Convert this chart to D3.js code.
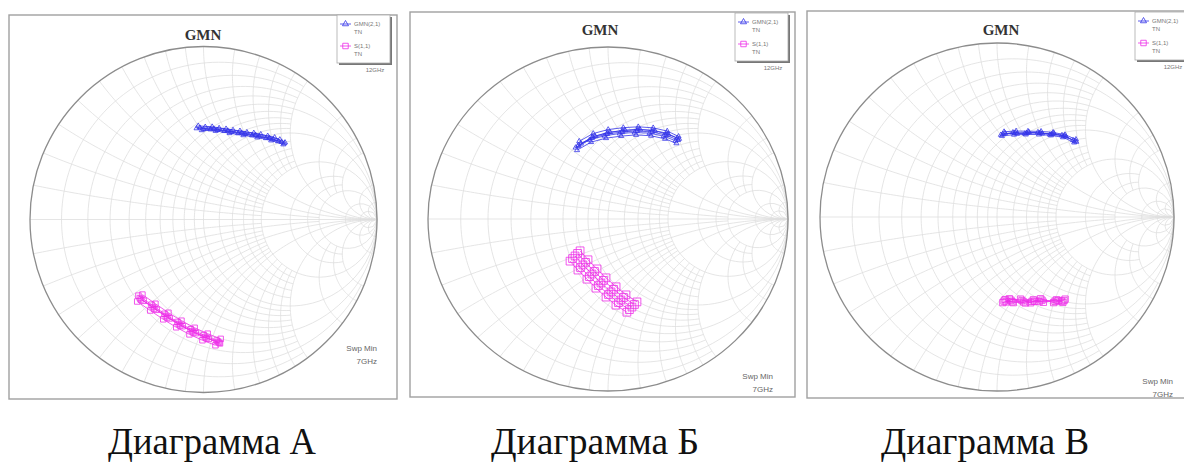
<!DOCTYPE html>
<html lang="ru">
  <head>
    <meta charset="UTF-8" />
    <title>GMN Smith charts</title>
    <style>
      body { margin: 0; background: #fff; }
      svg { display: block; }
      .grid { fill: none; stroke: #dedede; stroke-width: 0.8px; }
      .rim { fill: none; stroke: #8c8c8c; stroke-width: 1.3px; }
      .frame { fill: none; stroke: #a0a0a0; stroke-width: 1.4px; }
      .title { font-family: "Liberation Serif", serif; font-weight: bold; font-size: 15px; fill: #333; }
      .caption { font-family: "Liberation Serif", serif; font-size: 38px; fill: #111; }
      .small { font-family: "Liberation Sans", Arial, sans-serif; font-size: 8px; fill: #666; }
      .tiny { font-family: "Liberation Sans", Arial, sans-serif; font-size: 6px; fill: #777; }
      .gmn { fill: none; stroke: #3535e8; stroke-width: 0.8px; }
      .s11 { fill: none; stroke: #ee2ee8; stroke-width: 0.8px; }
    </style>
  </head>
  <body>
    <script src="https://cdn.jsdelivr.net/npm/d3@7"></script>
    <script>

      // grid values of the Smith chart and how far each line runs
      var resistanceValues = [0.1, 0.2, 0.3, 0.4, 0.5, 0.6, 0.7, 0.8, 0.9, 1, 1.2, 1.4, 1.6, 1.8, 2, 3, 4, 5, 10, 20];
      var resistanceLimits = [2, 5, 2, 2, 1e6, 2, 2, 2, 2, 1e6, 2, 2, 2, 2, 1e6, 5, 5, 1e6, 1e6, 1e6];
      var reactanceValues  = [0.1, 0.2, 0.3, 0.4, 0.5, 0.6, 0.7, 0.8, 0.9, 1, 1.2, 1.4, 1.6, 1.8, 2, 3, 4, 5, 10, 20];
      var reactanceLimits  = [2, 5, 2, 2, 1e6, 2, 2, 2, 2, 1e6, 2, 2, 2, 2, 1e6, 5, 5, 1e6, 1e6, 1e6];

      var captions = ["Диаграмма А", "Диаграмма Б", "Диаграмма В"];
      var legendNames = ["GMN(2,1)", "S(1,1)"];

      // reflection coefficient (re, im), one trace per yield sample, 7..12 GHz
      var gmnA = [
        [[-0.02,0.530],[0.06,0.524],[0.14,0.513],[0.22,0.501],[0.30,0.489],[0.38,0.472],[0.45,0.449]],
        [[-0.01,0.516],[0.07,0.512],[0.15,0.499],[0.23,0.487],[0.31,0.474],[0.39,0.457],[0.46,0.434]],
        [[-0.03,0.541],[0.05,0.536],[0.13,0.524],[0.21,0.512],[0.29,0.500],[0.37,0.483],[0.44,0.462]],
        [[0.00,0.522],[0.08,0.517],[0.16,0.506],[0.24,0.494],[0.32,0.480],[0.40,0.463],[0.465,0.440]],
        [[-0.04,0.527],[0.04,0.521],[0.12,0.511],[0.20,0.498],[0.28,0.486],[0.36,0.470],[0.43,0.452]],
        [[0.01,0.535],[0.09,0.528],[0.17,0.517],[0.25,0.504],[0.33,0.492],[0.41,0.474],[0.47,0.445]]
      ];
      var s11A = [
        [[-0.367,-0.454],[-0.292,-0.506],[-0.217,-0.558],[-0.142,-0.604],[-0.066,-0.645],[0.009,-0.679],[0.084,-0.708]],
        [[-0.352,-0.434],[-0.277,-0.487],[-0.202,-0.539],[-0.127,-0.585],[-0.051,-0.626],[0.024,-0.660],[0.099,-0.690]],
        [[-0.382,-0.474],[-0.307,-0.526],[-0.232,-0.577],[-0.157,-0.623],[-0.081,-0.664],[-0.006,-0.698],[0.069,-0.727]],
        [[-0.345,-0.470],[-0.270,-0.522],[-0.195,-0.572],[-0.120,-0.617],[-0.044,-0.657],[0.031,-0.690],[0.095,-0.716]],
        [[-0.375,-0.440],[-0.300,-0.492],[-0.225,-0.545],[-0.150,-0.592],[-0.074,-0.634],[0.001,-0.668],[0.076,-0.700]],
        [[-0.360,-0.462],[-0.284,-0.515],[-0.209,-0.566],[-0.134,-0.612],[-0.058,-0.652],[0.017,-0.686],[0.090,-0.712]]
      ];
      var gmnB = [
        [[-0.167,0.424],[-0.089,0.471],[-0.006,0.494],[0.078,0.506],[0.161,0.512],[0.244,0.506],[0.322,0.488],[0.389,0.459]],
        [[-0.160,0.452],[-0.082,0.497],[0.001,0.520],[0.085,0.531],[0.168,0.536],[0.251,0.530],[0.329,0.511],[0.392,0.480]],
        [[-0.172,0.400],[-0.094,0.447],[-0.011,0.470],[0.073,0.482],[0.156,0.489],[0.239,0.484],[0.317,0.466],[0.380,0.440]],
        [[-0.150,0.438],[-0.072,0.482],[0.011,0.505],[0.095,0.516],[0.178,0.520],[0.261,0.512],[0.335,0.492],[0.395,0.466]],
        [[-0.180,0.415],[-0.102,0.460],[-0.019,0.484],[0.065,0.497],[0.148,0.503],[0.231,0.499],[0.309,0.482],[0.375,0.455]],
        [[-0.163,0.430],[-0.085,0.478],[-0.002,0.502],[0.082,0.514],[0.165,0.521],[0.248,0.516],[0.326,0.499],[0.385,0.470]]
      ];
      var s11B = [
        [[-0.183,-0.215],[-0.139,-0.267],[-0.089,-0.320],[-0.039,-0.372],[0.017,-0.424],[0.072,-0.471],[0.133,-0.512]],
        [[-0.155,-0.185],[-0.111,-0.237],[-0.061,-0.290],[-0.011,-0.342],[0.045,-0.394],[0.100,-0.441],[0.161,-0.482]],
        [[-0.211,-0.245],[-0.167,-0.297],[-0.117,-0.350],[-0.067,-0.402],[-0.011,-0.454],[0.044,-0.501],[0.105,-0.542]],
        [[-0.169,-0.200],[-0.125,-0.252],[-0.075,-0.305],[-0.025,-0.357],[0.031,-0.409],[0.086,-0.456],[0.147,-0.497]],
        [[-0.197,-0.230],[-0.153,-0.282],[-0.103,-0.335],[-0.053,-0.387],[0.003,-0.439],[0.058,-0.486],[0.119,-0.527]]
      ];
      var gmnC = [
        [[0.034,0.477],[0.102,0.483],[0.169,0.483],[0.243,0.483],[0.311,0.477],[0.379,0.466],[0.441,0.437]],
        [[0.040,0.490],[0.108,0.494],[0.175,0.493],[0.249,0.492],[0.317,0.486],[0.384,0.473],[0.446,0.446]],
        [[0.028,0.466],[0.096,0.473],[0.163,0.474],[0.237,0.474],[0.305,0.469],[0.373,0.458],[0.436,0.428]],
        [[0.045,0.482],[0.113,0.478],[0.180,0.488],[0.254,0.479],[0.322,0.481],[0.389,0.462],[0.448,0.432]],
        [[0.022,0.472],[0.090,0.486],[0.157,0.479],[0.231,0.487],[0.299,0.473],[0.367,0.470],[0.430,0.441]]
      ];
      var s11C = [
        [[0.040,-0.483],[0.085,-0.487],[0.141,-0.480],[0.198,-0.485],[0.254,-0.478],[0.328,-0.484],[0.379,-0.480]],
        [[0.046,-0.475],[0.092,-0.492],[0.150,-0.488],[0.206,-0.476],[0.262,-0.490],[0.336,-0.476],[0.372,-0.490]],
        [[0.033,-0.492],[0.078,-0.478],[0.133,-0.472],[0.190,-0.493],[0.246,-0.470],[0.320,-0.492],[0.385,-0.472]],
        [[0.052,-0.488],[0.070,-0.470],[0.160,-0.494],[0.212,-0.484],[0.238,-0.486],[0.345,-0.480],[0.365,-0.484]]
      ];

      var gmnSeries = [gmnA, gmnB, gmnC];
      var s11Series = [s11A, s11B, s11C];

      // where each panel sits on the page
      var panels = [
        { fx: 9,   fy: 15, fw: 388, fh: 384, cx: 203.5, cy: 219.5, rx: 173.5, ry: 173, tx: 203, ty: 40, lx: 337, ly: 15, sx: 377,  sy: 351, capX: 212, sq: 30 },
        { fx: 410, fy: 12, fw: 385, fh: 385, cx: 608,   cy: 219,   rx: 180,   ry: 172, tx: 600, ty: 35, lx: 735, ly: 13, sx: 773,  sy: 379, capX: 595, sq: 60 },
        { fx: 807, fy: 11, fw: 390, fh: 387, cx: 997,   cy: 217,   rx: 177,   ry: 174, tx: 1001, ty: 35, lx: 1135, ly: 12, sx: 1173, sy: 384, capX: 985, sq: 40 }
      ];

      var w = 1184, h = 470;
      var svg = d3.select("body").append("svg").attr("width", w).attr("height", h);

      // z = r + jx  ->  gamma = (z - 1) / (z + 1)
      function gamma(r, x) {
        var d = (r + 1) * (r + 1) + x * x;
        return [(r * r + x * x - 1) / d, (2 * x) / d];
      }

      function resistancePath(r, lim) {
        var a = Math.atan(lim), pts = [];
        for (var i = 0; i <= 120; i++) {
          var t = -a + 2 * a * i / 120;
          pts.push(gamma(r, Math.tan(t)));
        }
        return pts;
      }

      function reactancePath(x, lim) {
        var a = Math.atan(lim), pts = [];
        for (var i = 0; i <= 80; i++) {
          var t = a * i / 80;
          pts.push(gamma(Math.tan(t), x));
        }
        return pts;
      }

      panels.forEach(function(p, k) {
        var xScale = d3.scaleLinear().domain([-1, 1]).range([p.cx - p.rx, p.cx + p.rx]);
        var yScale = d3.scaleLinear().domain([-1, 1]).range([p.cy + p.ry, p.cy - p.ry]);
        var line = d3.line()
          .x(function(d) { return xScale(d[0]); })
          .y(function(d) { return yScale(d[1]); });

        var g = svg.append("g");

        g.append("rect").attr("class", "frame")
          .attr("x", p.fx).attr("y", p.fy).attr("width", p.fw).attr("height", p.fh);

        var grid = g.append("g");
        resistanceValues.forEach(function(r, i) {
          grid.append("path").attr("class", "grid").attr("d", line(resistancePath(r, resistanceLimits[i])));
        });
        reactanceValues.forEach(function(x, i) {
          grid.append("path").attr("class", "grid").attr("d", line(reactancePath(x, reactanceLimits[i])));
          grid.append("path").attr("class", "grid").attr("d", line(reactancePath(-x, reactanceLimits[i])));
        });
        grid.append("path").attr("class", "grid").attr("d", line([[-1, 0], [1, 0]]));

        g.append("ellipse").attr("class", "rim")
          .attr("cx", xScale(0)).attr("cy", yScale(0))
          .attr("rx", xScale(1) - xScale(0)).attr("ry", yScale(-1) - yScale(0));

        g.append("text").attr("class", "title")
          .attr("x", p.tx).attr("y", p.ty).attr("text-anchor", "middle").text("GMN");

        // traces
        var tri = d3.symbol().type(d3.symbolTriangle).size(11);
        var sqr = d3.symbol().type(d3.symbolSquare).size(p.sq);

        s11Series[k].forEach(function(tr) {
          g.append("path").attr("class", "s11").attr("d", line(tr));
          g.selectAll(null).data(tr).enter().append("path")
            .attr("class", "s11")
            .attr("d", sqr)
            .attr("transform", function(d) { return "translate(" + xScale(d[0]) + "," + yScale(d[1]) + ")"; });
        });
        gmnSeries[k].forEach(function(tr) {
          g.append("path").attr("class", "gmn").attr("d", line(tr));
          g.selectAll(null).data(tr).enter().append("path")
            .attr("class", "gmn")
            .attr("d", tri)
            .attr("transform", function(d) { return "translate(" + xScale(d[0]) + "," + yScale(d[1]) + ")"; });
        });

        // legend
        var lg = g.append("g").attr("transform", "translate(" + p.lx + "," + p.ly + ")");
        lg.append("rect").attr("x", 2).attr("y", 2).attr("width", 53).attr("height", 48).attr("fill", "#777");
        lg.append("rect").attr("width", 53).attr("height", 48).attr("fill", "#fff").attr("stroke", "#aaa").attr("stroke-width", 0.8);
        lg.append("line").attr("class", "gmn").attr("x1", 3).attr("x2", 14).attr("y1", 9).attr("y2", 9);
        lg.append("path").attr("class", "gmn").attr("d", d3.symbol().type(d3.symbolTriangle).size(16))
          .attr("transform", "translate(8.5,9)");
        lg.append("text").attr("class", "tiny").attr("x", 17).attr("y", 11).text(legendNames[0]);
        lg.append("text").attr("class", "tiny").attr("x", 17).attr("y", 19).text("TN");
        lg.append("line").attr("class", "s11").attr("x1", 3).attr("x2", 14).attr("y1", 31).attr("y2", 31);
        lg.append("path").attr("class", "s11").attr("d", d3.symbol().type(d3.symbolSquare).size(30))
          .attr("transform", "translate(8.5,31)");
        lg.append("text").attr("class", "tiny").attr("x", 17).attr("y", 33).text(legendNames[1]);
        lg.append("text").attr("class", "tiny").attr("x", 17).attr("y", 41).text("TN");
        lg.append("text").attr("class", "tiny").attr("x", 38).attr("y", 57).attr("text-anchor", "middle").text("12GHz");

        g.append("text").attr("class", "small").attr("x", p.sx).attr("y", p.sy)
          .attr("text-anchor", "end").text("Swp Min");
        g.append("text").attr("class", "small").attr("x", p.sx).attr("y", p.sy + 13)
          .attr("text-anchor", "end").text("7GHz");

        svg.append("text").attr("class", "caption")
          .attr("x", p.capX).attr("y", 454).attr("text-anchor", "middle")
          .attr("textLength", 208).attr("lengthAdjust", "spacingAndGlyphs")
          .text(captions[k]);
      });

    </script>
  </body>
</html>
